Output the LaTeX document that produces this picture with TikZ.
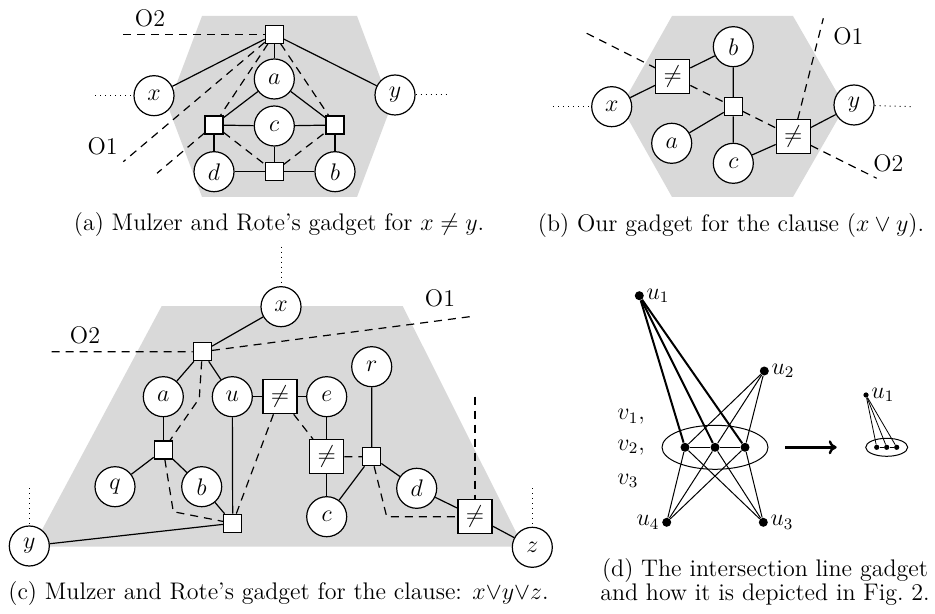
\documentclass[tikz,border=0pt]{standalone}
\usepackage{amssymb}
\usetikzlibrary{arrows.meta,positioning,shapes.geometric,calc}
\definecolor{gadGray}{HTML}{D9D9D9}
\tikzset{
  var/.style={draw=black, fill=white, circle, line width=0.6pt,
        minimum size=20pt, inner sep=0pt, font=\large},
  junc/.style={draw=black, fill=white, rectangle, line width=0.6pt,
        minimum size=9pt, inner sep=0pt},
  neqbox/.style={draw=black, fill=white, rectangle, line width=0.6pt,
        minimum size=17pt, inner sep=0pt, font=\large},
  dotv/.style={circle, fill=black, minimum size=4.5pt, inner sep=0pt},
  sdotv/.style={circle, fill=black, minimum size=2.6pt, inner sep=0pt},
  wire/.style={draw=black, line width=0.6pt},
  orient/.style={draw=black, line width=0.6pt, dash pattern=on 4pt off 3pt},
  lead/.style={draw=black, line width=0.5pt, dotted},
  olab/.style={font=\large, inner sep=0pt},
  capt/.style={align=center, inner sep=0pt, font=\fontsize{12}{12}\selectfont}
}

\begin{document}
\begin{tikzpicture}[x=0.5pt, y=-0.5pt]
\useasboundingbox (0,0) rectangle (935,614);

% (a) gadget for x != y
\fill[gadGray] (202,16) -- (357,16) -- (391,106.5) -- (357,197) -- (202,197) -- (168,106.5) -- cycle;
\node[junc] (aT) at (274.3,34.3) {};
\node[var] (aa) at (274.3,79) {$a$};
\node[var] (ax) at (154,95.7) {$x$};
\node[var] (ay) at (395,95) {$y$};
\node[var] (ac) at (274.3,126) {$c$};
\node[junc] (aL) at (214,125) {};
\node[junc] (aR) at (335,125) {};
\node[var] (ad) at (214,171.7) {$d$};
\node[var] (ab) at (335,171.7) {$b$};
\node[junc] (aB) at (274.3,171.7) {};
\coordinate (aXo) at (95,95.7);
\coordinate (aYo) at (449,95);
\coordinate (aO2) at (123,34.3);
\coordinate (aO1a) at (123.3,161.7);
\coordinate (aO1b) at (157,173.3);
\node[olab] (aO2lab) at (150,18) {O2};
\node[olab] (aO1lab) at (102.7,146.7) {O1};

\draw[lead] (aXo) -- (ax);
\draw[lead] (ay) -- (aYo);
\draw[wire] (aT) -- (ax);
\draw[wire] (aT) -- (ay);
\draw[wire] (aT) -- (aa);
\draw[wire] (aa) -- (aL);
\draw[wire] (aa) -- (aR);
\draw[wire] (aL) -- (ac) -- (aR);
\draw[wire] (aL) -- (ad);
\draw[wire] (aR) -- (ab);
\draw[wire] (ac) -- (aB);
\draw[wire] (ad) -- (aB) -- (ab);
\draw[orient] (aO2) -- (aT);
\draw[orient] (aT) -- (aO1a);
\draw[orient] (aT) -- (aL) -- (aO1b);
\draw[orient] (aT) -- (aR);
\draw[orient] (aL) -- (aB) -- (aR);

\node[capt, anchor=base] (capA) at (279,231) {(a) Mulzer and Rote's gadget for $x\neq y$.};

% (b) gadget for the clause (x or y)
\fill[gadGray] (672,16) -- (793,16) -- (845,106.5) -- (793,197) -- (672,197) -- (621,106.5) -- cycle;
\node[var] (bb) at (733.3,46.7) {$b$};
\node[neqbox] (bN1) at (672.7,76.7) {$\neq$};
\node[var] (bx) at (611.7,106.7) {$x$};
\node[junc] (bC) at (733.3,106.7) {};
\node[var] (ba) at (671.7,143.3) {$a$};
\node[var] (bc) at (733.3,163.3) {$c$};
\node[neqbox] (bN2) at (793.3,136.7) {$\neq$};
\node[var] (by) at (854,105) {$y$};
\coordinate (bXo) at (553.3,106.7);
\coordinate (bYo) at (913.3,106.7);
\coordinate (bO2s) at (586.7,33.3);
\coordinate (bO2e) at (876.7,178.3);
\coordinate (bO1) at (823.3,18.3);
\node[olab] (bO1lab) at (848.3,36.7) {O1};
\node[olab] (bO2lab) at (888.3,163.3) {O2};

\draw[lead] (bXo) -- (bx);
\draw[lead] (by) -- (bYo);
\draw[wire] (bx) -- (bN1) -- (bb) -- (bC);
\draw[wire] (bC) -- (ba);
\draw[wire] (bC) -- (bc) -- (bN2) -- (by);
\draw[orient] (bO2s) -- (bN1) -- (bC) -- (bN2) -- (bO2e);
\draw[orient] (bN2) -- (bO1);

\node[capt, anchor=base] (capB) at (731,231.5) {(b) Our gadget for the clause $(x\vee y)$.};

% (c) gadget for the clause x or y or z
\fill[gadGray] (33,546.7) -- (161.7,306) -- (402.7,306) -- (523.3,546.7) -- cycle;
\node[var] (cx) at (281,306.7) {$x$};
\node[junc] (cT) at (202.3,351.7) {};
\node[var] (ca) at (163.3,396.7) {$a$};
\node[var] (cu) at (232.3,396.7) {$u$};
\node[neqbox] (cNA) at (280,396.7) {$\neq$};
\node[var] (ce) at (326.7,396.7) {$e$};
\node[var] (cr) at (371.7,366.7) {$r$};
\node[junc] (cM) at (163.3,450) {};
\node[var] (cq) at (115,486.7) {$q$};
\node[var] (cb) at (201.7,486.7) {$b$};
\node[junc] (cB) at (232.7,523.3) {};
\node[var] (cy) at (29.3,546) {$y$};
\node[neqbox] (cNB) at (326.7,456.7) {$\neq$};
\node[junc] (cR) at (371.7,456.7) {};
\node[var] (cc) at (326.7,516.7) {$c$};
\node[var] (cd) at (416.7,488.3) {$d$};
\node[neqbox] (cNC) at (475,516.7) {$\neq$};
\node[var] (cz) at (532.3,547.3) {$z$};
\coordinate (cXo) at (281,246.7);
\coordinate (cYo) at (29.3,488.3);
\coordinate (cZo) at (532.3,488.3);
\coordinate (cO2) at (51.7,351.7);
\coordinate (cO1) at (475,316);
\coordinate (cV) at (475,396.7);
\coordinate (cK1) at (199.3,398.3);
\coordinate (cK2) at (173.3,511.7);
\coordinate (cK3) at (386.7,516.7);
\node[olab] (cO2lab) at (85,335) {O2};
\node[olab] (cO1lab) at (440,298.3) {O1};

\draw[lead] (cXo) -- (cx);
\draw[lead] (cYo) -- (cy);
\draw[lead] (cZo) -- (cz);
\draw[wire] (cx) -- (cT);
\draw[wire] (cT) -- (ca);
\draw[wire] (cT) -- (cu);
\draw[wire] (ca) -- (cM);
\draw[wire] (cM) -- (cq);
\draw[wire] (cM) -- (cb) -- (cB);
\draw[wire] (cu) -- (cB);
\draw[wire] (cy) -- (cB);
\draw[wire] (cu) -- (cNA) -- (ce) -- (cNB) -- (cc);
\draw[wire] (cr) -- (cR) -- (cc);
\draw[wire] (cR) -- (cd) -- (cNC) -- (cz);
\draw[orient] (cO2) -- (cT) -- (cO1);
\draw[orient] (cV) -- (cNC);
\draw[orient] (cT) -- (cK1) -- (cM);
\draw[orient] (cM) -- (cK2) -- (cB);
\draw[orient] (cNA) -- (cB);
\draw[orient] (cNA) -- (cNB) -- (cR);
\draw[orient] (cR) -- (cK3) -- (cNC);

\node[capt, anchor=base] (capC) at (278.5,599) {(c) Mulzer and Rote's gadget for the clause: $x{\vee}y{\vee}z$.};

% (d) intersection line gadget
\node[draw, ellipse, line width=0.5pt, minimum width=53pt, minimum height=22pt, inner sep=0pt] (dV) at (715,447.3) {};
\node[dotv, label={[font=\large, inner sep=1pt]right:$u_1$}] (du1) at (639.3,295.7) {};
\node[dotv, label={[font=\large, inner sep=1pt]right:$u_2$}] (du2) at (764.3,371) {};
\node[dotv, label={[font=\large, inner sep=1pt]right:$u_3$}] (du3) at (763.3,522.3) {};
\node[dotv, label={[font=\large, inner sep=1pt]left:$u_4$}] (du4) at (666.7,522.3) {};
\node[dotv] (dv1) at (685,447.3) {};
\node[dotv] (dv2) at (715,447.3) {};
\node[dotv] (dv3) at (745,447.3) {};
\node[font=\large, anchor=west, inner sep=0pt] (dl1) at (617,416.7) {$v_1,$};
\node[font=\large, anchor=west, inner sep=0pt] (dl2) at (617,447.3) {$v_2,$};
\node[font=\large, anchor=west, inner sep=0pt] (dl3) at (617,480.7) {$v_3$};

\foreach \v in {dv1,dv2,dv3}{
  \draw[line width=1pt] (du1) -- (\v);
  \draw[line width=0.5pt] (du2) -- (\v);
  \draw[line width=0.5pt] (du3) -- (\v);
  \draw[line width=0.5pt] (du4) -- (\v);
}
\draw[line width=0.5pt] (dv1) -- (dv2) -- (dv3);

\node[draw, ellipse, line width=0.5pt, minimum width=21pt, minimum height=9pt, inner sep=0pt] (dS) at (886.7,447.3) {};
\node[sdotv, label={[font=\large, inner sep=1pt]right:$u_1$}] (ds1) at (866,395) {};
\node[sdotv] (dw1) at (876.7,447.3) {};
\node[sdotv] (dw2) at (886.7,447.3) {};
\node[sdotv] (dw3) at (896.7,447.3) {};
\foreach \w in {dw1,dw2,dw3}{
  \draw[line width=0.4pt] (ds1) -- (\w);
}
\draw[line width=0.4pt] (dw1) -- (dw2) -- (dw3);

\coordinate (dA1) at (785,447.3);
\coordinate (dA2) at (836.7,447.3);
\draw[line width=1.2pt, -{To[length=4pt,width=7pt]}] (dA1) -- (dA2);

\node[capt] (capD) at (765,582) {(d) The intersection line gadget\\and how it is depicted in Fig.~2.};
\end{tikzpicture}
\end{document}
